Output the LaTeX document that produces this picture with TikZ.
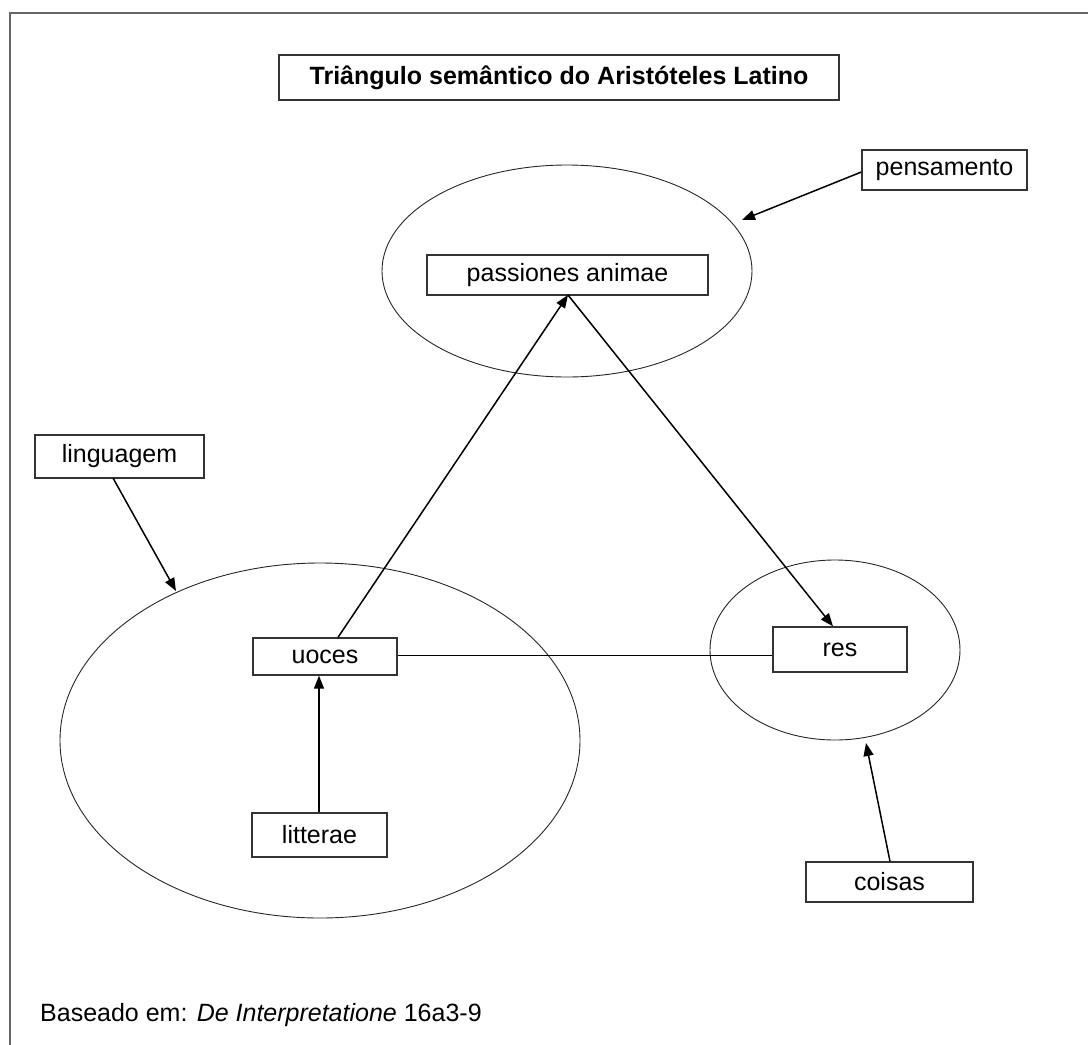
\documentclass[tikz,border=0pt]{standalone}
\usepackage{fontspec}
\setmainfont{Liberation Sans}
\usetikzlibrary{arrows.meta}
\begin{document}
\begin{tikzpicture}[x=1pt,y=-1pt,
  box/.style={draw=black!80,line width=1.3pt,rectangle,inner sep=0pt,
    font=\fontsize{25}{30}\selectfont},
  zone/.style={draw=black!85,line width=0.9pt},
  link/.style={draw=black,line width=1.5pt},
  arrow/.style={link,-{Triangle[length=13pt,width=10pt]}}]
\useasboundingbox (0,0) rectangle (1088,1045);
% frame
\draw[black!60,line width=2pt] (10,1045) -- (10,13) -- (1088,13);

% title
\node[box,minimum width=560,minimum height=45,
  font=\fontsize{25}{30}\bfseries\selectfont] (title) at (559,77.5)
  {Triângulo semântico do Aristóteles Latino};

% regions
\draw[zone] (567,271) ellipse [x radius=185,y radius=106];
\draw[zone] (320,740.5) ellipse [x radius=260,y radius=177.5];
\draw[zone] (835,650) ellipse [x radius=125,y radius=90];

% labels of the regions
\node[box,minimum width=165,minimum height=40] (pens) at (944.5,170) {pensamento};
\node[box,minimum width=169,minimum height=43] (ling) at (119.5,456.5) {linguagem};
\node[box,minimum width=167,minimum height=40] (cois) at (889.5,882) {coisas};

% terms
\node[box,fill=white,minimum width=281,minimum height=40] (pass) at (567.5,275) {passiones animae};
\node[box,fill=white,minimum width=144,minimum height=37] (uoc) at (325,656.5) {uoces};
\node[box,fill=white,minimum width=134,minimum height=45] (res) at (840,649.5) {res};
\node[box,fill=white,minimum width=135,minimum height=44] (litt) at (319.5,835) {litterae};

% free ends on the ellipses
\coordinate (pensEnd) at (742,220);
\coordinate (lingEnd) at (176,591);
\coordinate (coisEnd) at (866,743);
\coordinate (passFoot) at (568,295);

% connectors
\draw[arrow] (pens.west |- 0,172) -- (pensEnd);
\draw[arrow] (113,478) -- (lingEnd);
\draw[arrow] (cois.north -| 890,0) -- (coisEnd);
\draw[arrow] (litt.north -| 319,0) -- (uoc.south -| 319,0);
\draw[arrow] (uoc.north -| 338,0) -- (passFoot);
\draw[arrow] (passFoot) -- (res.north -| 833,0);
\draw[link,line width=1pt] (uoc.east |- 0,655) -- (res.west |- 0,655);

% source
\node[anchor=base west,inner sep=0pt,font=\fontsize{25}{30}\selectfont] (src) at (40,1021)
  {Baseado em: \textit{De Interpretatione} 16a3-9};
\end{tikzpicture}
\end{document}
